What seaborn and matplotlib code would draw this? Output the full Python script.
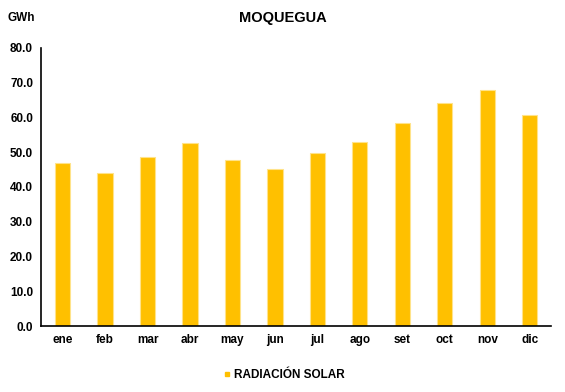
import pandas as pd
import matplotlib.pyplot as plt
import seaborn as sns
from matplotlib.lines import Line2D
from matplotlib.ticker import FormatStrFormatter

# Data (GWh per month)
months = ['ene', 'feb', 'mar', 'abr', 'may', 'jun', 'jul', 'ago', 'set', 'oct', 'nov', 'dic']
radiacion_solar = [46.8, 43.9, 48.6, 52.6, 47.8, 45.1, 49.9, 53.0, 58.3, 64.0, 67.9, 60.7]
y_ticks = [0, 10, 20, 30, 40, 50, 60, 70, 80]

df = pd.DataFrame({'mes': months, 'gwh': radiacion_solar})

sns.set_style("white")
plt.rcParams['font.family'] = ['Liberation Sans', 'DejaVu Sans']
plt.rcParams['font.weight'] = 'bold'
plt.rcParams['text.color'] = 'black'
plt.rcParams['xtick.color'] = 'black'
plt.rcParams['ytick.color'] = 'black'
plt.rcParams['axes.labelcolor'] = 'black'

fig = plt.figure(figsize=(5.65, 3.92), dpi=100)
ax = fig.add_axes([0.0733, 0.168, 0.9017, 0.710])

sns.barplot(data=df, x='mes', y='gwh', color='#FFC000', saturation=1,
            width=0.36, edgecolor='#FFE38A', linewidth=0.8, ax=ax)

ax.set_ylim(0, 80)
ax.set_xlim(-0.5, len(months) - 0.5)
ax.set_yticks(y_ticks)
ax.yaxis.set_major_formatter(FormatStrFormatter('%.1f'))
ax.set_xlabel('')
ax.set_ylabel('')

for side in ['top', 'right']:
    ax.spines[side].set_visible(False)
for side in ['left', 'bottom']:
    ax.spines[side].set_color('black')
    ax.spines[side].set_linewidth(1.2)

ax.tick_params(axis='y', direction='out', length=4, width=1, color='black',
               labelcolor='black', labelsize=8.5, pad=2)
ax.tick_params(axis='x', length=0, labelcolor='black', labelsize=8.5, pad=6)
for lab in ax.get_xticklabels() + ax.get_yticklabels():
    lab.set_fontweight('bold')

fig.text(0.5, 0.953, 'MOQUEGUA', ha='center', va='center', fontsize=10.5,
         fontweight='bold', color='black')
fig.text(0.014, 0.953, 'GWh', ha='left', va='center', fontsize=8.5,
         fontweight='bold', color='black')

handle = Line2D([], [], marker='s', linestyle='', color='#FFC000', markersize=3.5)
fig.legend([handle], ['RADIACIÓN SOLAR'], loc='center', bbox_to_anchor=(0.5, 0.044),
           frameon=False, prop={'weight': 'bold', 'size': 8.5},
           handletextpad=0.1, handlelength=1.0, labelcolor='black')

fig.savefig('out.png', dpi=100)
